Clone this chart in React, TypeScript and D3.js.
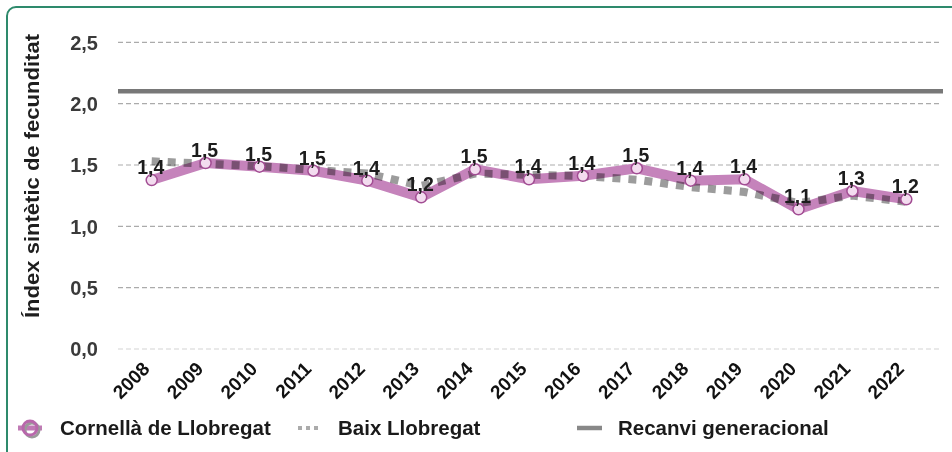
import React from "react";
import * as d3 from "d3";

const years = ["2008","2009","2010","2011","2012","2013","2014","2015","2016","2017","2018","2019","2020","2021","2022"];
const cornella = [1.377,1.516,1.486,1.453,1.372,1.236,1.465,1.383,1.412,1.473,1.372,1.383,1.139,1.288,1.22];
const baix = [1.53,1.51,1.49,1.46,1.43,1.33,1.43,1.42,1.41,1.38,1.32,1.28,1.19,1.25,1.2];
const recanvi = 2.1;
const yTicks = [0, 0.5, 1, 1.5, 2, 2.5];
const yTitle = "Índex sintètic de fecunditat";
const legendLabels = ["Cornellà de Llobregat", "Baix Llobregat", "Recanvi generacional"];

const W = 952, H = 452;
const FONT = "'Liberation Sans', Arial, sans-serif";

export default function App() {
  const x = d3.scalePoint<string>().domain(years).range([118, 940]).padding(0.625);
  const y = d3.scaleLinear().domain([0, 2.5]).range([349, 42.3]);
  const fmt = (v: number) => d3.format(".1f")(v).replace(".", ",");
  const line = d3.line<number>().x((_, i) => x(years[i]) as number).y((d) => y(d));

  return (
    <svg width={W} height={H} style={{ position: "absolute", left: 0, top: 0, background: "#fff" }} fontFamily={FONT}>
      <rect x={7} y={7} width={1100} height={600} rx={9} fill="none" stroke="#2e8a6c" strokeWidth={2} />
      {yTicks.map((t) => (
        <g key={t}>
          <line x1={118} x2={942} y1={y(t)} y2={y(t)} stroke={t === 0 ? "#d4d4d4" : "#ababab"} strokeWidth={1.2} strokeDasharray="5,3" />
          <text x={98} y={y(t)} dy="0.36em" textAnchor="end" fontSize={20} fontWeight="bold" fill="#3a3a3a">{fmt(t)}</text>
        </g>
      ))}
      <text transform={`translate(39,${176}) rotate(-90)`} textAnchor="middle" fontSize={21} fontWeight="bold" fill="#1e1e1e" textLength={284} lengthAdjust="spacingAndGlyphs">{yTitle}</text>
      <line x1={118} x2={943} y1={y(recanvi)} y2={y(recanvi)} stroke="#787878" strokeWidth={4.5} />
      <path d={line(cornella) || ""} fill="none" stroke="#c583bb" strokeWidth={10} strokeLinejoin="round" strokeLinecap="round" />
      <path d={line(baix) || ""} fill="none" stroke="#9c9c9c" strokeWidth={8} strokeDasharray="8,8" style={{ mixBlendMode: "multiply" }} />
      {cornella.map((v, i) => (
        <circle key={i} cx={x(years[i])} cy={y(v)} r={5.5} fill="#f3dcef" stroke="#a24d93" strokeWidth={1.5} />
      ))}
      {cornella.map((v, i) => (
        <text key={i} x={(x(years[i]) as number) - 1} y={y(v) - 6} textAnchor="middle" fontSize={19.5} fontWeight="bold" fill="#1c1c1c">{fmt(v)}</text>
      ))}
      {years.map((yr) => (
        <text key={yr} transform={`translate(${(x(yr) as number) - 1},370) rotate(-45)`} textAnchor="end" fontSize={19} fontWeight="bold" fill="#111">{yr}</text>
      ))}
      <g>
        <line x1={18} x2={42} y1={428} y2={428} stroke="#c07ab5" strokeWidth={5} />
        <circle cx={32} cy={430} r={7} fill="none" stroke="#9a9a9a" strokeWidth={3} />
        <circle cx={30} cy={428} r={7} fill="none" stroke="#b867ab" strokeWidth={3} />
        <text x={60} y={435} fontSize={20.5} fontWeight="bold" fill="#1a1a1a">{legendLabels[0]}</text>
        <line x1={298} x2={320} y1={428} y2={428} stroke="#ababab" strokeWidth={4} strokeDasharray="4,4" />
        <text x={338} y={435} fontSize={20.5} fontWeight="bold" fill="#1a1a1a">{legendLabels[1]}</text>
        <line x1={577} x2={602} y1={428} y2={428} stroke="#888" strokeWidth={4.5} />
        <text x={618} y={435} fontSize={20.5} fontWeight="bold" fill="#1a1a1a">{legendLabels[2]}</text>
      </g>
    </svg>
  );
}
